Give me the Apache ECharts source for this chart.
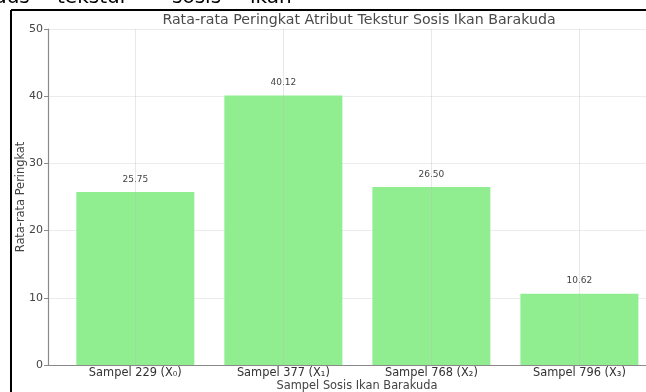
<!DOCTYPE html>
<html>
<head>
<meta charset="utf-8">
<script src="https://cdn.jsdelivr.net/npm/echarts@6/dist/echarts.min.js"></script>
<style>html,body{margin:0;padding:0;background:#fff;}#c{width:646px;height:392px;}</style>
</head>
<body>
<div id="c"></div>
<script>
const categories = ['Sampel 229 (X\u2080)', 'Sampel 377 (X\u2081)', 'Sampel 768 (X\u2082)', 'Sampel 796 (X\u2083)'];
const values = [25.75, 40.12, 26.50, 10.62];
const yTicks = [0, 10, 20, 30, 40, 50];
const titleText = 'Rata-rata Peringkat Atribut Tekstur Sosis Ikan Barakuda';
const xName = 'Sampel Sosis Ikan Barakuda';
const yName = 'Rata-rata Peringkat';
const topWords = ['dus', 'tekstur', 'sosis', 'ikan'];

const idx = categories.map((c, i) => i);
const chart = echarts.init(document.getElementById('c'), null, {renderer: 'canvas'});
const font = 'DejaVu Sans';
const wordX = [-6, 57, 172, 250];
chart.setOption({
  animation: false,
  backgroundColor: '#fff',
  textStyle: {fontFamily: font},
  title: {
    text: titleText, left: 354, top: 8, textAlign: 'center',
    textStyle: {fontSize: 14.2, fontWeight: 'normal', color: '#4a4a4a', fontFamily: font}
  },
  grid: {left: 48, top: 29, height: 336, right: 0, containLabel: false, outerBoundsMode: 'none'},
  xAxis: {
    type: 'value', min: -0.59, max: 3.45,
    axisLine: {show: true, onZero: false, lineStyle: {color: '#8a8a8a', width: 1.2}},
    axisTick: {show: true, inside: true, length: 3, customValues: idx, lineStyle: {color: '#555'}},
    axisLabel: {customValues: idx, formatter: v => categories[Math.round(v)], fontSize: 11.4, color: '#333', margin: 3, fontFamily: font},
    splitLine: {show: false}
  },
  yAxis: {
    type: 'value', min: 0, max: 50, interval: 10,
    axisLine: {show: true, onZero: false, lineStyle: {color: '#8a8a8a', width: 1.2}},
    axisTick: {show: true, length: 4, lineStyle: {color: '#8a8a8a'}},
    axisLabel: {fontSize: 11, color: '#444', margin: 5, fontFamily: font},
    splitLine: {show: true, lineStyle: {color: '#ececec', width: 1}}
  },
  series: [{
    type: 'bar',
    data: values.map((v, i) => [i, v]),
    barWidth: 118,
    itemStyle: {color: '#90ee90'},
    label: {show: true, position: 'top', distance: 8, formatter: p => p.value[1].toFixed(2), fontSize: 9, color: '#444', fontFamily: font},
    markLine: {
      silent: true, symbol: ['none', 'none'], label: {show: false},
      lineStyle: {color: 'rgba(190,190,190,0.35)', width: 1, type: 'solid'},
      data: idx.map(i => ({xAxis: i}))
    }
  }],
  graphic: [
    {type: 'line', shape: {x1: 11, y1: 10, x2: 646, y2: 10}, style: {stroke: '#000', lineWidth: 2}},
    {type: 'line', shape: {x1: 11, y1: 10, x2: 11, y2: 392}, style: {stroke: '#000', lineWidth: 2}},
    {type: 'text', x: 357, y: 386, style: {text: xName, font: '11.4px "DejaVu Sans"', fill: '#444', textAlign: 'center', textVerticalAlign: 'middle'}},
    {type: 'text', x: 21, y: 197, rotation: Math.PI / 2, style: {text: yName, font: '11.4px "DejaVu Sans"', fill: '#444', textAlign: 'center', textVerticalAlign: 'middle'}}
  ].concat(topWords.map((w, i) => ({
    type: 'text', x: wordX[i], y: 8,
    style: {text: w, font: '20px "DejaVu Sans"', fill: '#000', textVerticalAlign: 'bottom'}
  })))
});
</script>
</body>
</html>
